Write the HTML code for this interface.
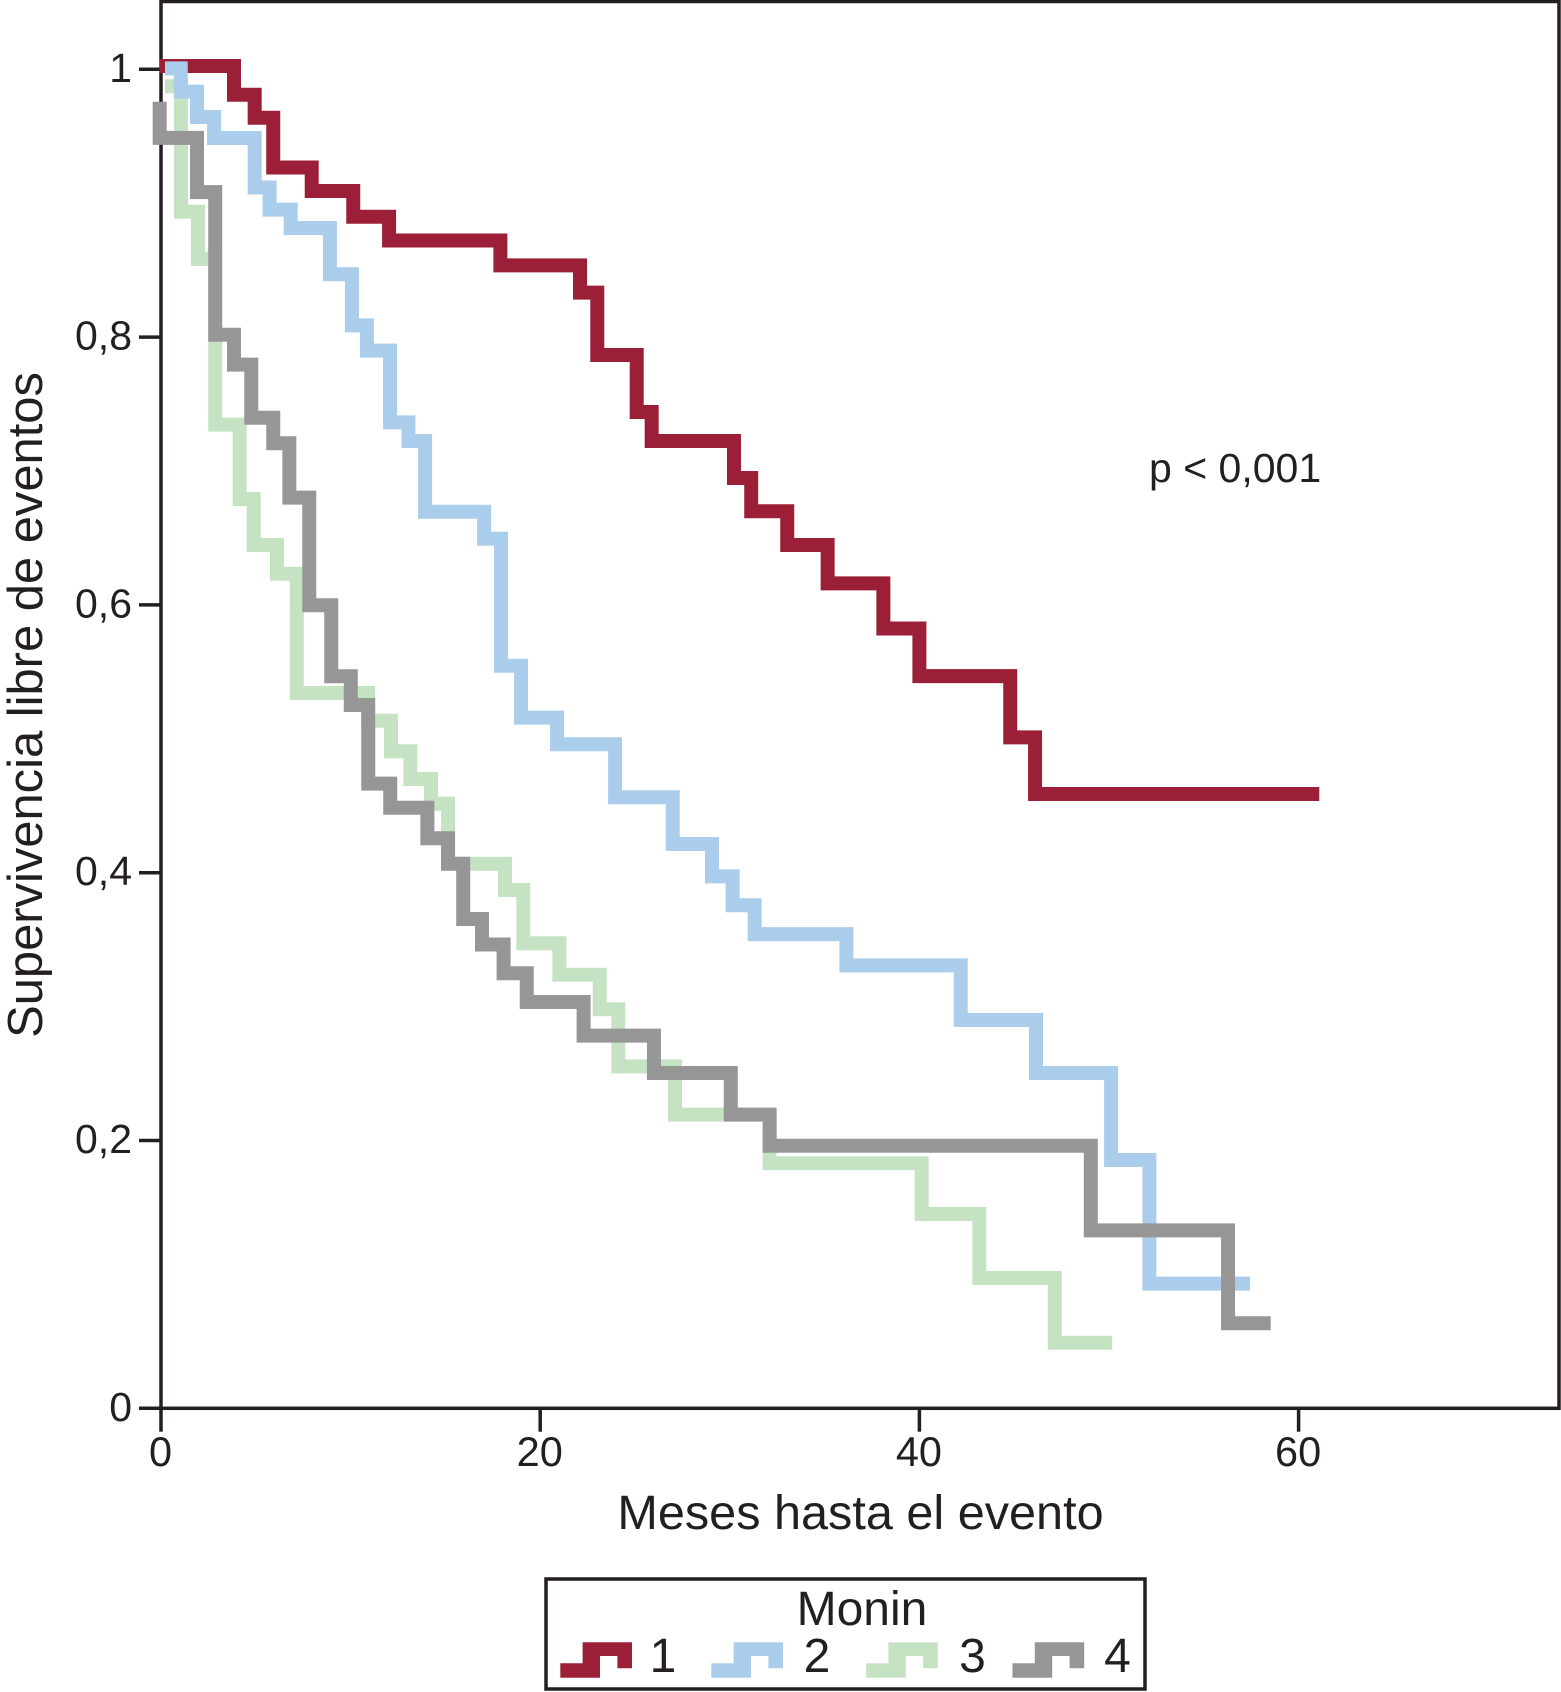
<!DOCTYPE html>
<html lang="es">
<head>
<meta charset="utf-8">
<title>Supervivencia libre de eventos</title>
<style>
  html, body { margin: 0; padding: 0; background: #ffffff; }
  svg { display: block; }
  text { font-family: "Liberation Sans", Arial, sans-serif; fill: #231f20; }
</style>
</head>
<body>
<svg id="chart" xmlns="http://www.w3.org/2000/svg" width="1561" height="1692" viewBox="0 0 1561 1692">
  <rect x="0" y="0" width="1561" height="1692" fill="#ffffff"/>
  <g id="axes"></g>
  <g id="series"></g>
  <g id="labels"></g>

  <text transform="translate(42 705) rotate(-90)" text-anchor="middle" font-size="48.9">Supervivencia libre de eventos</text>
  <text x="860.5" y="1529" text-anchor="middle" font-size="48.6">Meses hasta el evento</text>
  <text x="1149" y="482" font-size="41">p &lt; 0,001</text>

  <g>
    <rect x="546" y="1579" width="599" height="110" fill="#ffffff" stroke="#231f20" stroke-width="3.5"/>
    <text x="862" y="1625" text-anchor="middle" font-size="48">Monin</text>
    <polygon points="560.3,1663.3 582.6,1663.3 582.6,1642.3 632,1642.3 632,1668.3 617.4,1668.3 617.4,1656 600,1656 600,1677.7 560.3,1677.7" fill="#9b2037"/>
    <text x="663" y="1672" text-anchor="middle" font-size="48">1</text>
    <polygon transform="translate(151 0)" points="560.3,1663.3 582.6,1663.3 582.6,1642.3 632,1642.3 632,1668.3 617.4,1668.3 617.4,1656 600,1656 600,1677.7 560.3,1677.7" fill="#abcdec"/>
    <text x="817" y="1672" text-anchor="middle" font-size="48">2</text>
    <polygon transform="translate(305.8 0)" points="560.3,1663.3 582.6,1663.3 582.6,1642.3 632,1642.3 632,1668.3 617.4,1668.3 617.4,1656 600,1656 600,1677.7 560.3,1677.7" fill="#c5e3c3"/>
    <text x="972.5" y="1672" text-anchor="middle" font-size="48">3</text>
    <polygon transform="translate(452.2 0)" points="560.3,1663.3 582.6,1663.3 582.6,1642.3 632,1642.3 632,1668.3 617.4,1668.3 617.4,1656 600,1656 600,1677.7 560.3,1677.7" fill="#969696"/>
    <text x="1117.5" y="1672" text-anchor="middle" font-size="48">4</text>
  </g>
</svg>

<script>
// Chart data: time[i] is when a level starts, survival[i] holds until time[i + 1].
const xTickValues = [0, 20, 40, 60];
const xTickLabels = ["0", "20", "40", "60"];
const yTickValues = [0, 0.2, 0.4, 0.6, 0.8, 1];
const yTickLabels = ["0", "0,2", "0,4", "0,6", "0,8", "1"];

const monin1Times = [-0.08, 3.85, 4.94, 5.92, 7.95, 10.14, 12.03, 17.90, 22.10, 23.01, 25.09, 25.88, 30.22, 31.13, 33.03, 35.16, 38.10, 40.00, 44.79, 46.10, 61.09];
const monin1Survival = [1.0025, 0.9810, 0.9638, 0.9267, 0.9091, 0.8899, 0.8721, 0.8536, 0.8332, 0.7866, 0.7441, 0.7224, 0.6948, 0.6699, 0.6447, 0.6161, 0.5824, 0.5468, 0.5011, 0.4588];

const monin2Times = [0.21, 1.04, 1.90, 2.80, 4.94, 5.73, 6.84, 8.91, 10.07, 10.86, 12.08, 13.05, 13.93, 17.04, 17.93, 18.99, 20.89, 23.95, 26.99, 29.06, 30.15, 31.31, 36.15, 42.18, 46.15, 50.11, 52.13, 57.44];
const monin2Survival = [1.0007, 0.9833, 0.9644, 0.9487, 0.9117, 0.8952, 0.8815, 0.8469, 0.8088, 0.7899, 0.7363, 0.7224, 0.6696, 0.6494, 0.5546, 0.5158, 0.4959, 0.4563, 0.4214, 0.3973, 0.3757, 0.3541, 0.3308, 0.2900, 0.2504, 0.1854, 0.0931];

const monin3Times = [0.21, 1.05, 1.95, 2.86, 4.15, 4.89, 6.12, 7.16, 10.92, 12.13, 13.15, 14.24, 15.14, 18.14, 19.11, 21.01, 23.14, 24.12, 27.11, 32.10, 40.12, 43.16, 47.14, 50.17];
const monin3Survival = [0.9873, 0.8936, 0.8583, 0.7346, 0.6791, 0.6447, 0.6233, 0.5342, 0.5135, 0.4907, 0.4700, 0.4515, 0.4067, 0.3871, 0.3473, 0.3238, 0.2980, 0.2554, 0.2193, 0.1830, 0.1451, 0.0973, 0.0490];

const monin4Times = [-0.07, -0.07, 1.90, 2.86, 3.85, 4.76, 5.92, 6.77, 7.82, 8.98, 10.01, 10.93, 12.09, 14.05, 15.14, 15.94, 16.93, 18.07, 19.29, 22.29, 26.00, 30.05, 32.10, 49.04, 56.28, 58.53];
const monin4Survival = [0.9758, 0.9488, 0.9083, 0.8018, 0.7794, 0.7398, 0.7207, 0.6801, 0.5997, 0.5467, 0.5252, 0.4665, 0.4485, 0.4257, 0.4067, 0.3654, 0.3464, 0.3249, 0.3034, 0.2783, 0.2504, 0.2193, 0.1961, 0.1329, 0.0635];

const SVG_NS = "http://www.w3.org/2000/svg";
const AXIS_COLOR = "#231f20";
const FRAME_LEFT = 161;
const FRAME_RIGHT = 1559;
const FRAME_TOP = 1.5;
const FRAME_BOTTOM = 1408.3;

function xScale(month) {
  return FRAME_LEFT + month * 18.96;
}
function yScale(survival) {
  return FRAME_BOTTOM - survival * 1339;
}
function make(tag, attrs, parent) {
  const el = document.createElementNS(SVG_NS, tag);
  Object.keys(attrs).forEach(function (key) { el.setAttribute(key, attrs[key]); });
  parent.appendChild(el);
  return el;
}
function stepPath(times, survival) {
  let d = "M" + xScale(times[0]).toFixed(2) + " " + yScale(survival[0]).toFixed(2);
  for (let i = 1; i < times.length; i++) {
    if (times[i] !== times[i - 1]) {
      d += "H" + xScale(times[i]).toFixed(2);
    }
    if (i < survival.length) {
      d += "V" + yScale(survival[i]).toFixed(2);
    }
  }
  return d;
}

const axesGroup = document.getElementById("axes");
const seriesGroup = document.getElementById("series");
const labelsGroup = document.getElementById("labels");

const frame = make("rect", {
  x: FRAME_LEFT, y: FRAME_TOP,
  width: FRAME_RIGHT - FRAME_LEFT, height: FRAME_BOTTOM - FRAME_TOP,
  fill: "none", stroke: AXIS_COLOR, "stroke-width": 3.5
}, axesGroup);



xTickValues.forEach(function (value, i) {
  const tick = make("line", {
    x1: xScale(value), x2: xScale(value),
    y1: FRAME_BOTTOM, y2: 1431.7,
    stroke: AXIS_COLOR, "stroke-width": 3.5
  }, axesGroup);
  
  

  const label = make("text", {
    x: xScale(value) - 0.5, y: 1466,
    "text-anchor": "middle", "font-size": 41.5
  }, labelsGroup);
  label.textContent = xTickLabels[i];
  
  
});

yTickValues.forEach(function (value, i) {
  const tick = make("line", {
    x1: 139, x2: FRAME_LEFT,
    y1: yScale(value), y2: yScale(value),
    stroke: AXIS_COLOR, "stroke-width": 3.5
  }, axesGroup);
  
  

  const label = make("text", {
    x: 132, y: yScale(value) + 12.5,
    "text-anchor": "end", "font-size": 41
  }, labelsGroup);
  label.textContent = yTickLabels[i];
  
  
});

const line1 = make("path", { d: stepPath(monin1Times, monin1Survival), fill: "none", stroke: "#9b2037", "stroke-width": 14, "stroke-linejoin": "miter" }, seriesGroup);



const line3 = make("path", { d: stepPath(monin3Times, monin3Survival), fill: "none", stroke: "#c5e3c3", "stroke-width": 14, "stroke-linejoin": "miter" }, seriesGroup);



const line2 = make("path", { d: stepPath(monin2Times, monin2Survival), fill: "none", stroke: "#abcdec", "stroke-width": 14, "stroke-linejoin": "miter" }, seriesGroup);



const line4 = make("path", { d: stepPath(monin4Times, monin4Survival), fill: "none", stroke: "#969696", "stroke-width": 14, "stroke-linejoin": "miter" }, seriesGroup);


</script>
</body>
</html>
